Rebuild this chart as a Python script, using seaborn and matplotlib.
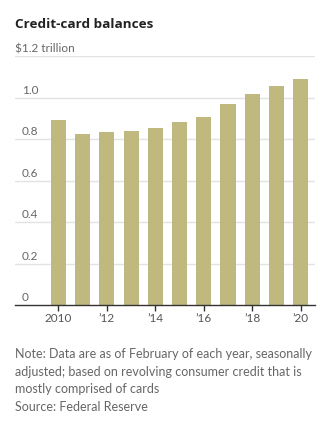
import matplotlib
matplotlib.use("Agg")
import matplotlib.pyplot as plt
import seaborn as sns
import pandas as pd

years = ["2010", "2011", "2012", "2013", "2014", "2015", "2016", "2017", "2018", "2019", "2020"]
balances = [0.892, 0.824, 0.834, 0.839, 0.853, 0.882, 0.906, 0.969, 1.017, 1.055, 1.089]
tick_labels = ["2010", "’12", "’14", "’16", "’18", "’20"]
y_ticks = [0, 0.2, 0.4, 0.6, 0.8, 1.0, 1.2]
y_tick_labels = ["0", "0.2", "0.4", "0.6", "0.8", "1.0", "$1.2 trillion"]

sns.set_style("white")
plt.rcParams["font.family"] = ["Lato", "DejaVu Sans"]

W, H = 334, 423
fig = plt.figure(figsize=(W / 100, H / 100), dpi=100)

def fx(px):
    return px / W

def fy(py):
    return 1 - py / H

left, right, top, bottom = 15, 315, 56, 305
ax = fig.add_axes([fx(left), fy(bottom), (right - left) / W, (bottom - top) / H])

df = pd.DataFrame({"year": years, "value": balances})
sns.barplot(data=df, x="year", y="value", color="#bfb87f", saturation=1,
            width=0.62, ax=ax, edgecolor="none")

ax.set_xlim(-1.79, 10.59)
ax.set_ylim(0, 1.2)
ax.set_xlabel("")
ax.set_ylabel("")

for t in y_ticks[1:]:
    ax.axhline(t, color="#e3e3e3", lw=1.0, zorder=0)
ax.set_yticks([])
for sp in ["top", "right", "left"]:
    ax.spines[sp].set_visible(False)
ax.spines["bottom"].set_color("#333333")
ax.spines["bottom"].set_linewidth(1.0)

ax.set_xticks([0, 2, 4, 6, 8, 10])
ax.set_xticklabels(tick_labels, fontsize=8.5, color="#555555")
ax.tick_params(axis="x", length=4, width=1, color="#333333", pad=2, direction="out", bottom=True)

for t, lab in zip(y_ticks, y_tick_labels):
    xpos = fx(15) if t == 1.2 else fx(22)
    ypx = bottom - t * (bottom - top) / 1.2 - 2
    fig.text(xpos, fy(ypx), lab, fontsize=8.5, color="#666666", ha="left", va="bottom")

fig.text(fx(15), fy(28.5), "Credit-card balances", fontsize=9.7, fontweight="bold",
         family=["Open Sans", "DejaVu Sans"], color="#222222", ha="left", va="baseline")

notes = ["Note: Data are as of February of each year, seasonally",
         "adjusted; based on revolving consumer credit that is",
         "mostly comprised of cards",
         "Source: Federal Reserve"]
for i, line in enumerate(notes):
    fig.text(fx(15), fy(358 + i * 17.5), line, fontsize=9, color="#666666",
             ha="left", va="baseline")

fig.savefig("out.png", dpi=100)
